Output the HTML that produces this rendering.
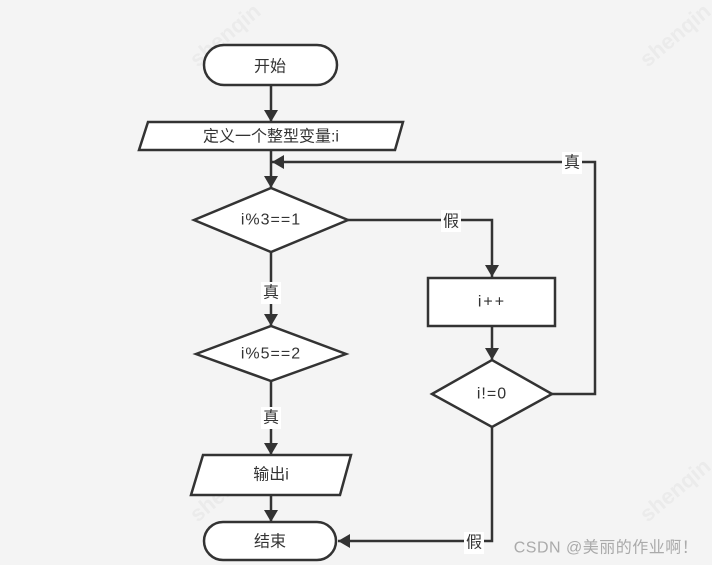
<!DOCTYPE html>
<html><head><meta charset="utf-8"><style>
html,body{margin:0;padding:0;background:#f4f4f4;}
svg{display:block}
text{font-family:"Liberation Sans","Noto Sans CJK SC",sans-serif;font-size:16px;fill:#333;text-anchor:middle;dominant-baseline:central}
.wm{font-size:22px;fill:#ebebeb;font-weight:bold}
</style></head><body>
<svg width="712" height="565" viewBox="0 0 712 565">
<defs>
<marker id="b" markerWidth="12" markerHeight="14" refX="12" refY="7" orient="auto" markerUnits="userSpaceOnUse"><path d="M0,0 L12,7 L0,14 z" fill="#333"/></marker></defs>
<g class="wm"><text class="wm" x="225" y="35" transform="rotate(-40 225 35)">shenqin</text>
<text class="wm" x="675" y="35" transform="rotate(-40 675 35)">shenqin</text>
<text class="wm" x="225" y="490" transform="rotate(-40 225 490)">shenqin</text>
<text class="wm" x="675" y="490" transform="rotate(-40 675 490)">shenqin</text></g>
<g stroke="#333" stroke-width="2.5" fill="none">
<line x1="271" y1="85" x2="271" y2="122" marker-end="url(#b)"/>
<line x1="271" y1="150" x2="271" y2="188" marker-end="url(#b)"/>
<polyline points="552,394 595,394 595,162 272,162" marker-end="url(#b)"/>
<polyline points="348,220 492,220 492,277" marker-end="url(#b)"/>
<line x1="271" y1="252" x2="271" y2="326" marker-end="url(#b)"/>
<line x1="271" y1="381" x2="271" y2="455" marker-end="url(#b)"/>
<line x1="271" y1="495" x2="271" y2="522" marker-end="url(#b)"/>
<line x1="492" y1="326" x2="492" y2="360" marker-end="url(#b)"/>
<polyline points="492,427 492,541 338,541" marker-end="url(#b)"/>
</g>
<g stroke="#333" stroke-width="2.5" fill="#fff">
<rect x="204" y="45" width="133" height="40" rx="20"/>
<polygon points="148,122 403,122 395,150 139,150"/>
<polygon points="194,220 271,188 348,220 271,252"/>
<polygon points="196,354 271,326 346,354 271,381"/>
<polygon points="203,455 351,455 340,495 191,495"/>
<rect x="204" y="522" width="132" height="38" rx="19"/>
<rect x="428" y="278" width="127" height="48"/>
<polygon points="432,394 492,360 552,394 492,427"/>
</g>
<g fill="#fff"><rect x="441" y="210" width="20" height="22"/><rect x="261" y="282" width="20" height="22"/><rect x="261" y="407" width="20" height="22"/><rect x="562" y="152" width="20" height="22"/><rect x="464" y="532" width="20" height="22"/></g>
<text x="270" y="67">开始</text>
<text x="271" y="137">定义一个整型变量:i</text>
<text x="271" y="220" letter-spacing="1">i%3==1</text>
<text x="271" y="354" letter-spacing="1">i%5==2</text>
<text x="271" y="475">输出i</text>
<text x="270" y="542">结束</text>
<text x="492" y="302" letter-spacing="2">i++</text>
<text x="492" y="394" letter-spacing="1">i!=0</text>
<text x="451" y="222">假</text>
<text x="271" y="293">真</text>
<text x="271" y="418">真</text>
<text x="572" y="163">真</text>
<text x="474" y="543">假</text>
<text x="606" y="548" style="font-size:16px;fill:#aaa" letter-spacing="0.5">CSDN @美丽的作业啊！</text>
</svg>
</body></html>
